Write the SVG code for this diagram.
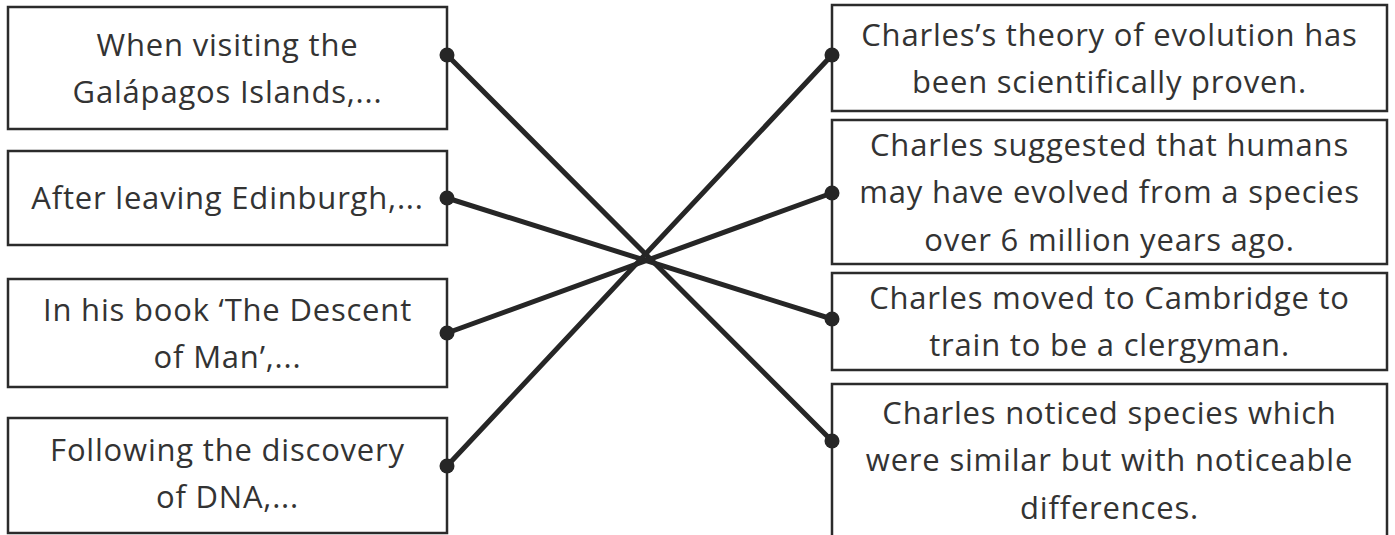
<svg xmlns="http://www.w3.org/2000/svg" width="1395" height="535" viewBox="0 0 1395 535">
<style>
.box{fill:#fff;stroke:#2b2b2b;stroke-width:2.5}
.t{font-family:"Open Sans","Noto Sans",sans-serif;font-size:31px;letter-spacing:0.8px;fill:#333;text-anchor:middle}
.c{stroke:#262626;stroke-width:5;stroke-linecap:round;fill:none}
.d{fill:#262626}
</style>
<rect width="1395" height="535" fill="#fff"/>
<g id="L1"><rect class="box" x="8" y="7" width="439" height="122"/>
<text class="t" x="227.5" y="56">When visiting the</text><text class="t" x="227.5" y="103">Galápagos Islands,...</text></g>
<g id="L2"><rect class="box" x="8" y="151" width="439" height="94"/>
<text class="t" x="227.5" y="209">After leaving Edinburgh,...</text></g>
<g id="L3"><rect class="box" x="8" y="279" width="439" height="108"/>
<text class="t" x="227.5" y="321">In his book ‘The Descent</text><text class="t" x="227.5" y="368">of Man’,...</text></g>
<g id="L4"><rect class="box" x="8" y="418" width="439" height="115"/>
<text class="t" x="227.5" y="461">Following the discovery</text><text class="t" x="227.5" y="508">of DNA,...</text></g>
<g id="R1"><rect class="box" x="832" y="5" width="555" height="106"/>
<text class="t" x="1109.5" y="46">Charles’s theory of evolution has</text><text class="t" x="1109.5" y="93">been scientifically proven.</text></g>
<g id="R2"><rect class="box" x="832" y="120" width="555" height="144"/>
<text class="t" x="1109.5" y="156">Charles suggested that humans</text><text class="t" x="1109.5" y="203">may have evolved from a species</text><text class="t" x="1109.5" y="251">over 6 million years ago.</text></g>
<g id="R3"><rect class="box" x="832" y="273" width="555" height="97"/>
<text class="t" x="1109.5" y="309">Charles moved to Cambridge to</text><text class="t" x="1109.5" y="356">train to be a clergyman.</text></g>
<g id="R4"><rect class="box" x="832" y="384" width="555" height="160"/>
<text class="t" x="1109.5" y="424">Charles noticed species which</text><text class="t" x="1109.5" y="471">were similar but with noticeable</text><text class="t" x="1109.5" y="519">differences.</text></g>
<g id="connectors">
<line class="c" x1="447" y1="55" x2="832" y2="441"/>
<line class="c" x1="447" y1="198" x2="832" y2="319"/>
<line class="c" x1="447" y1="333" x2="832" y2="193"/>
<line class="c" x1="447" y1="466" x2="832" y2="55"/>
<circle class="d" cx="447" cy="55" r="7.5"/><circle class="d" cx="447" cy="198" r="7.5"/>
<circle class="d" cx="447" cy="333" r="7.5"/><circle class="d" cx="447" cy="466" r="7.5"/>
<circle class="d" cx="832" cy="55" r="7.5"/><circle class="d" cx="832" cy="193" r="7.5"/>
<circle class="d" cx="832" cy="319" r="7.5"/><circle class="d" cx="832" cy="441" r="7.5"/>
</g>
</svg>
